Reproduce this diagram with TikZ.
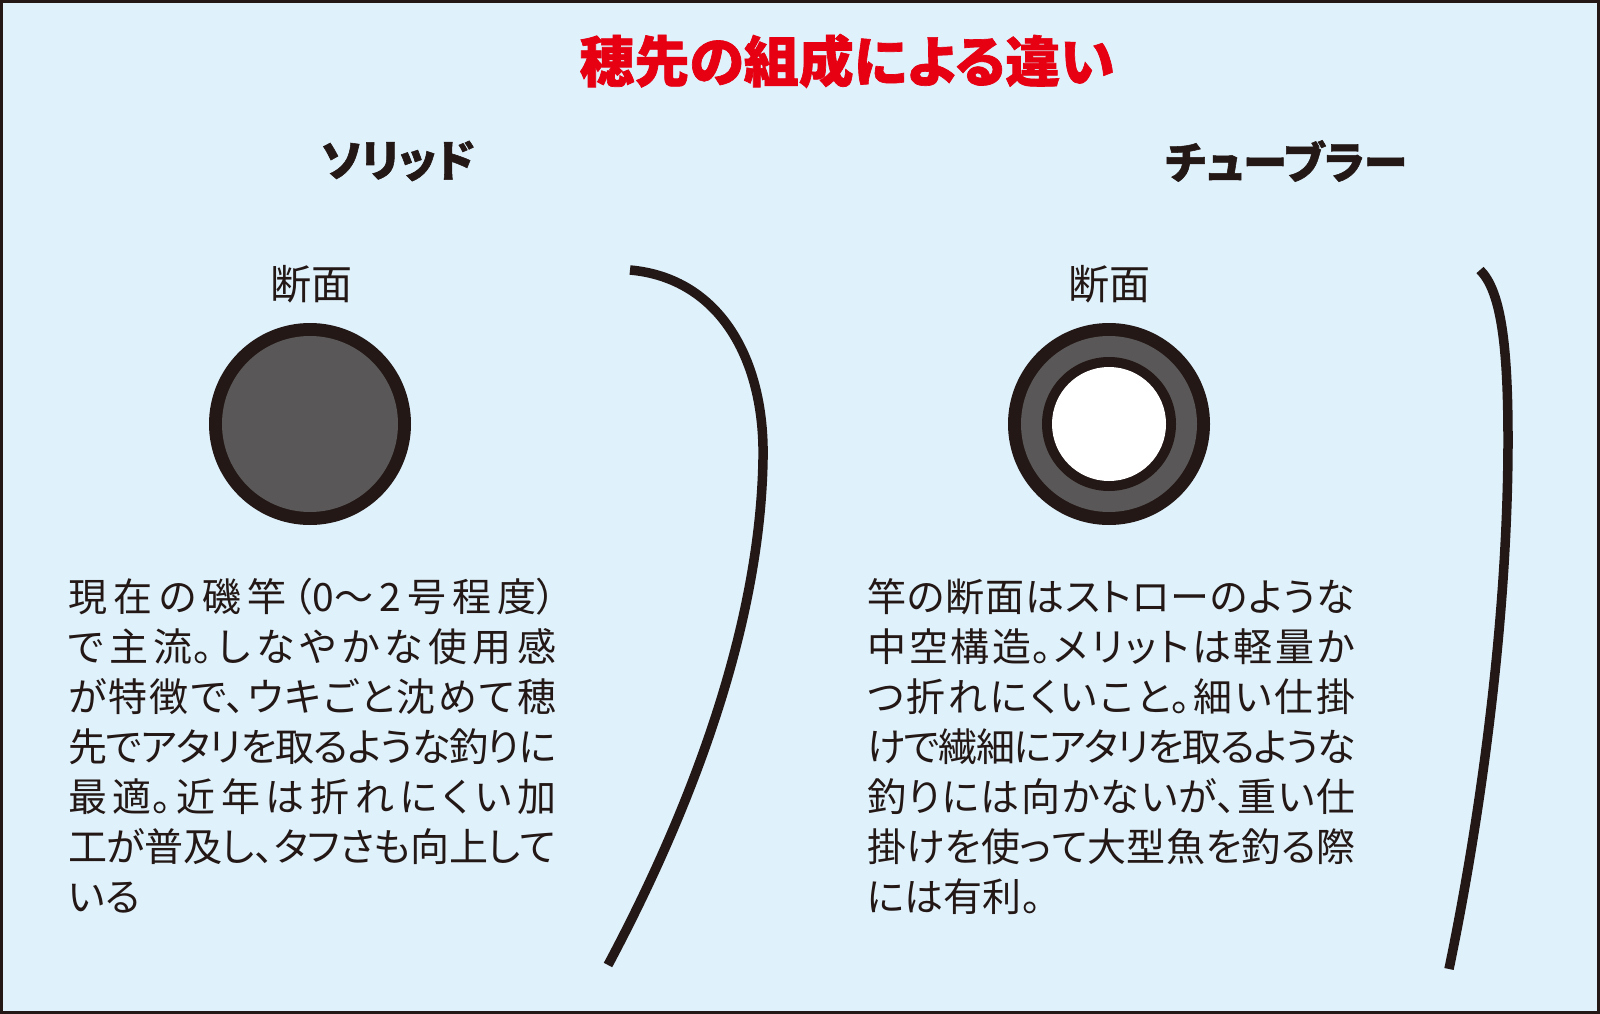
\documentclass[tikz,border=0pt]{standalone}
\usepackage{fontspec}
\setmainfont[RawFeature=+palt, BoldFeatures={FakeBold=1.2}]{Noto Sans CJK JP}
\XeTeXlinebreaklocale "ja"
\XeTeXlinebreakskip=0pt plus 6pt minus 1.5pt
\XeTeXlinebreakpenalty=10000
\setlength{\parindent}{0pt}

\definecolor{bgblue}{HTML}{DFF1FB}
\definecolor{ink}{HTML}{231815}
\definecolor{coregray}{HTML}{595757}
\definecolor{titlered}{HTML}{E60012}

\tikzset{
    bodytext/.style={anchor=north west, inner sep=0pt, text width=488pt, align=justify,
        text=ink, font=\fontsize{39}{50}\selectfont},
    headtext/.style={inner sep=0pt, text=ink, font=\bfseries\fontsize{44}{50}\selectfont},
    cuttext/.style={inner sep=0pt, text=ink, font=\fontsize{41}{48}\selectfont},
    rod/.style={draw=ink, line width=9.5pt}
}

\begin{document}
\begin{tikzpicture}[x=1pt,y=-1pt]
            \useasboundingbox (0,0) rectangle (1600,1014);
            \draw[fill=bgblue, draw=ink, line width=3pt] (1.5,1.5) rectangle (1598.5,1012.5);

            \node[inner sep=0pt, text=titlered, font=\bfseries\fontsize{55}{60}\selectfont] (title) at (847,61) {穂先の組成による違い};

            % solid
            \node[headtext] (solid) at (398,161) {ソリッド};
            \node[cuttext] (solidcut) at (311,284) {断面};
            \fill[ink] (310,424) circle (101);
            \fill[coregray] (310,424) circle (88);
            \draw[rod] (630,270) .. controls (720,278) and (765,360) .. (763,459)
                .. controls (760,640) and (680,830) .. (608,965);
            \node[bodytext] (solidtext) at (68,578) {現在の磯竿（0〜2号程度）\linebreak
                で主流。しなやかな使用感\linebreak
                が特徴で、ウキごと沈めて穂\linebreak
                先でアタリを取るような釣りに\linebreak
                最適。近年は折れにくい加\linebreak
                工が普及し、タフさも向上して\linebreak
                いる};

            % tubular
            \node[headtext] (tubular) at (1286,161) {チューブラー};
            \node[cuttext] (tubecut) at (1109,284) {断面};
            \fill[ink] (1109,424) circle (101);
            \fill[coregray] (1109,424) circle (88);
            \fill[ink] (1109,424) circle (67);
            \fill[white] (1109,424) circle (57);
            \draw[rod] (1480,270) .. controls (1500,290) and (1508,340) .. (1508,440)
                .. controls (1508,620) and (1480,820) .. (1449,969);
            \node[bodytext] (tubetext) at (867,578) {竿の断面はストローのような\linebreak
                中空構造。メリットは軽量か\linebreak
                つ折れにくいこと。細い仕掛\linebreak
                けで繊細にアタリを取るような\linebreak
                釣りには向かないが、重い仕\linebreak
                掛けを使って大型魚を釣る際\linebreak
                には有利。};
        \end{tikzpicture}
\end{document}
